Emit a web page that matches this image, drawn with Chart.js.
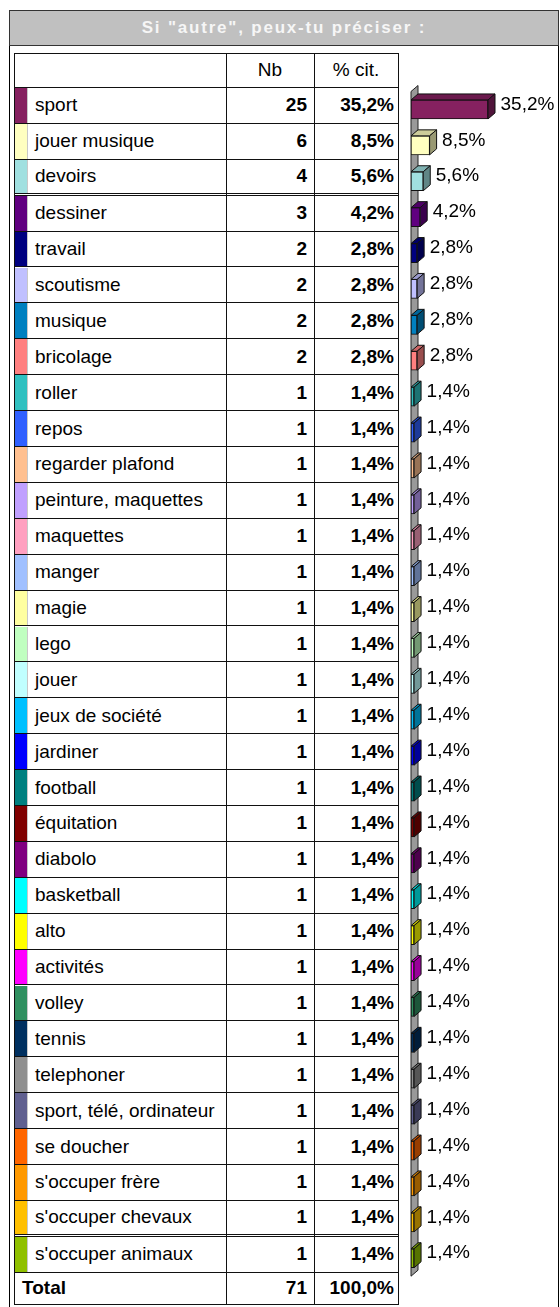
<!DOCTYPE html>
<html>
<head>
<meta charset="utf-8">
<script src="https://cdn.jsdelivr.net/npm/chart.js@4.4.1/dist/chart.umd.min.js"></script>
<style>
    html, body { margin: 0; padding: 0; background: #fff; }
    body {
        width: 560px; height: 1307px; position: relative; overflow: hidden;
        font-family: 'Liberation Sans', Arial, sans-serif; color: #000;
    }
    #frame {
        position: absolute; left: 9px; top: 10px; width: 550px; height: 1330px;
        border: 1px solid #000; box-sizing: border-box;
    }
    #title {
        position: absolute; left: 9px; top: 10px; width: 550px; height: 36px;
        background: #c0c0c0; border: 1px solid #333; box-sizing: border-box;
        color: #f6f6f6; font-weight: bold; font-size: 17px; letter-spacing: 1.8px;
        text-align: center; line-height: 34px;
    }
    .row {
        position: absolute; left: 14px; width: 385px; box-sizing: border-box;
        border-bottom: 1px solid #111;
    }
    .row.dbl { border-bottom: 3px double #111; }
    .cell {
        position: absolute; top: 0; bottom: 0; display: flex; align-items: center;
        font-size: 19px; white-space: nowrap; box-sizing: border-box;
    }
    .sw { left: 1px; width: 13px; border-right: 1px solid #c8c8c8; }
    .lab { left: 14px; width: 198px; padding-left: 7px; }
    .nb { left: 212px; width: 88px; justify-content: flex-end; padding-right: 7px; font-weight: bold; }
    .pc { left: 300px; width: 84px; justify-content: flex-end; padding-right: 4px; font-weight: bold; }
    .vl { position: absolute; width: 1px; background: #111; }
    #chart { position: absolute; left: 399px; top: 53px; }
</style>
</head>
<body>
<div id="frame"></div>
<div id="title">Si "autre", peux-tu préciser :</div>
<div id="table"></div>
<canvas id="chart" width="159" height="1254"></canvas>
<script>
const categories = [
    'sport', 'jouer musique', 'devoirs', 'dessiner', 'travail', 'scoutisme',
    'musique', 'bricolage', 'roller', 'repos', 'regarder plafond',
    'peinture, maquettes', 'maquettes', 'manger', 'magie', 'lego', 'jouer',
    'jeux de société', 'jardiner', 'football', 'équitation', 'diabolo',
    'basketball', 'alto', 'activités', 'volley', 'tennis', 'telephoner',
    'sport, télé, ordinateur', 'se doucher', "s'occuper frère",
    "s'occuper chevaux", "s'occuper animaux"
]
const counts = [
    25, 6, 4, 3, 2, 2, 2, 2, 1, 1, 1, 1, 1, 1, 1, 1, 1,
    1, 1, 1, 1, 1, 1, 1, 1, 1, 1, 1, 1, 1, 1, 1, 1
]
const percents = [
    35.2, 8.5, 5.6, 4.2, 2.8, 2.8, 2.8, 2.8, 1.4, 1.4, 1.4, 1.4, 1.4, 1.4, 1.4, 1.4, 1.4,
    1.4, 1.4, 1.4, 1.4, 1.4, 1.4, 1.4, 1.4, 1.4, 1.4, 1.4, 1.4, 1.4, 1.4, 1.4, 1.4
]
const colors = [
    '#862160', '#ffffc0', '#a0e0e0', '#600080', '#000080', '#c0c0ff',
    '#0080c0', '#ff8080', '#30c0c0', '#3060ff', '#ffc090',
    '#c0a0ff', '#ffa0c0', '#a0c0ff', '#ffffa0', '#c0ffc0', '#c0ffff',
    '#00c0ff', '#0000ff', '#008080', '#800000', '#800080',
    '#00ffff', '#ffff00', '#ff00ff', '#309060', '#003060', '#909090',
    '#606090', '#ff6600', '#ff9900', '#ffc000', '#90c000'
]
const totalCount = 71
const totalPercent = 100.0
const headers = ['', 'Nb', '% cit.']

const ROW_TOP = 88
const ROW_H = 35.9
const fmtPct = v => v.toFixed(1).replace('.', ',') + '%'

// table
const table = document.getElementById('table')
function addRow(top, height, cls, html) {
    const r = document.createElement('div')
    r.className = 'row' + (cls ? ' ' + cls : '')
    r.style.top = top + 'px'
    r.style.height = height + 'px'
    r.innerHTML = html
    table.appendChild(r)
}
addRow(53, ROW_TOP - 53, '',
    `<div class="cell" style="left:212px;width:88px;justify-content:center">${headers[1]}</div>` +
    `<div class="cell" style="left:300px;width:84px;justify-content:center">${headers[2]}</div>`)
categories.forEach((c, i) => {
    addRow(ROW_TOP + i * ROW_H, ROW_H, (i === 2 || i === 31) ? 'dbl' : '',
        `<div class="cell sw" style="background:${colors[i]}"></div>` +
        `<div class="cell lab">${c}</div>` +
        `<div class="cell nb">${counts[i]}</div>` +
        `<div class="cell pc">${fmtPct(percents[i])}</div>`)
})
const totalTop = ROW_TOP + categories.length * ROW_H
addRow(totalTop, 1305 - totalTop, '',
    `<div class="cell lab" style="left:1px;padding-left:7px;font-weight:bold">Total</div>` +
    `<div class="cell nb">${totalCount}</div>` +
    `<div class="cell pc">${fmtPct(totalPercent)}</div>`)
const topLine = document.createElement('div')
topLine.className = 'vl'
topLine.style.cssText = 'left:14px;top:53px;width:385px;height:1px'
table.appendChild(topLine)
;[14, 226, 314, 398].forEach(x => {
    const v = document.createElement('div')
    v.className = 'vl'
    v.style.left = x + 'px'
    v.style.top = '53px'
    v.style.height = (1305 - 53) + 'px'
    table.appendChild(v)
})

// 3D bars
const DX = 7
const DY = 6
function shade(hex, f) {
    const n = parseInt(hex.slice(1), 16)
    const r = Math.round(((n >> 16) & 255) * f)
    const g = Math.round(((n >> 8) & 255) * f)
    const b = Math.round((n & 255) * f)
    return `rgb(${r},${g},${b})`
}
function poly(ctx, pts, fill) {
    ctx.beginPath()
    ctx.moveTo(pts[0][0], pts[0][1])
    pts.slice(1).forEach(p => ctx.lineTo(p[0], p[1]))
    ctx.closePath()
    ctx.fillStyle = fill
    ctx.fill()
    ctx.stroke()
}
const threeD = {
    id: 'threeD',
    beforeDatasetsDraw(chart) {
        const { ctx, chartArea, scales } = chart
        const x0 = scales.x.getPixelForValue(0)
        ctx.save()
        ctx.strokeStyle = '#222'
        ctx.lineWidth = 1
        poly(ctx, [
            [x0, chartArea.top], [x0 + DX, chartArea.top - DY],
            [x0 + DX, chartArea.bottom - DY], [x0, chartArea.bottom]
        ], '#999')
        ctx.restore()
    },
    afterDatasetsDraw(chart) {
        const { ctx } = chart
        const meta = chart.getDatasetMeta(0)
        ctx.save()
        ctx.strokeStyle = '#111'
        ctx.lineWidth = 1
        meta.data.forEach((bar, i) => {
            const { x, y, base, height } = bar.getProps(['x', 'y', 'base', 'height'], true)
            const t = y - height / 2
            const b = y + height / 2
            poly(ctx, [[base, t], [base + DX, t - DY], [x + DX, t - DY], [x, t]], shade(colors[i], 0.8))
            poly(ctx, [[x, t], [x + DX, t - DY], [x + DX, b - DY], [x, b]], shade(colors[i], 0.6))
            ctx.fillStyle = '#000'
            ctx.font = '19px "Liberation Sans", Arial, sans-serif'
            ctx.textBaseline = 'middle'
            ctx.textAlign = 'left'
            ctx.fillText(fmtPct(percents[i]), x + DX + 5.5, y - 5)
        })
        ctx.restore()
    }
}

new Chart(document.getElementById('chart'), {
    type: 'bar',
    data: {
        labels: categories,
        datasets: [{
            data: percents,
            backgroundColor: colors,
            borderColor: '#111',
            borderWidth: 1,
            borderSkipped: false,
            barThickness: 19,
        }],
    },
    options: {
        indexAxis: 'y',
        responsive: false,
        animation: false,
        devicePixelRatio: 1,
        layout: { padding: { left: 12, right: 59.5, top: 38.5, bottom: 30.8 } },
        plugins: { legend: { display: false }, tooltip: { enabled: false } },
        scales: {
            x: { display: false, min: 0, max: 40 },
            y: { display: false },
        },
    },
    plugins: [threeD],
})
</script>
</body>
</html>
